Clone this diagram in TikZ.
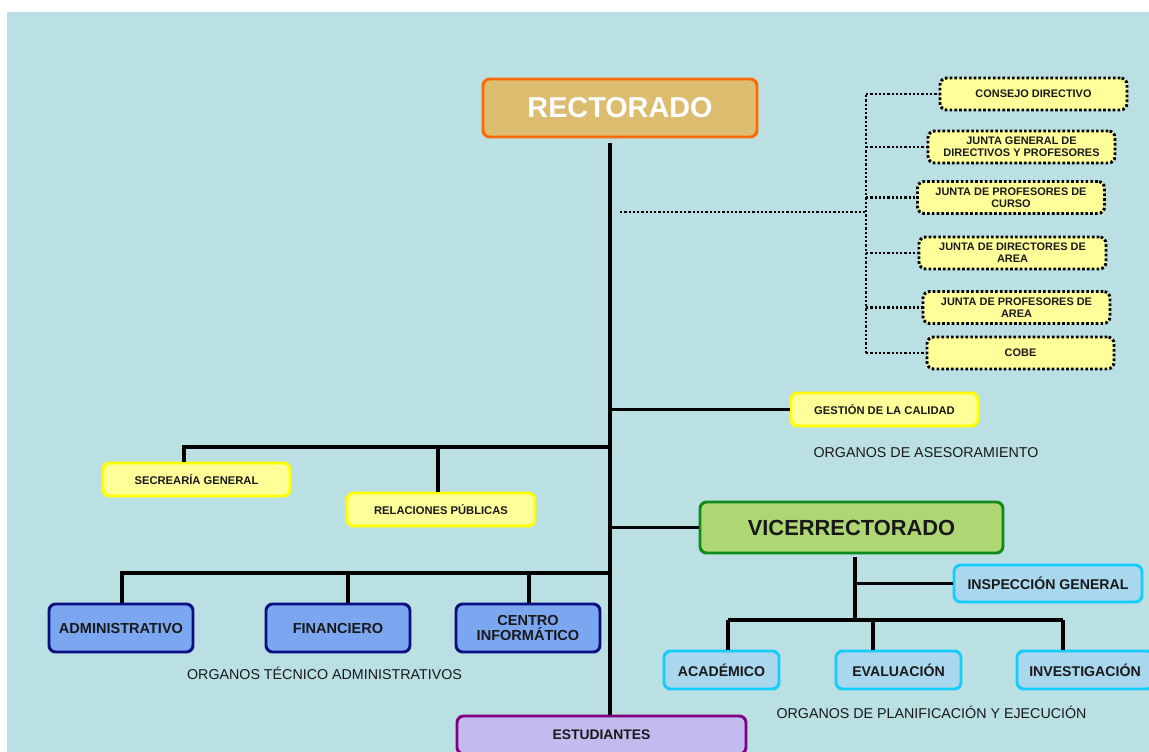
\documentclass[tikz,border=0pt]{standalone}
\usepackage{fontspec}
\setmainfont{Liberation Sans}

\definecolor{bgblue}{RGB}{186,224,227}
\definecolor{rectfill}{RGB}{220,188,110}
\definecolor{rectline}{RGB}{255,106,0}
\definecolor{paleyellow}{RGB}{255,255,153}
\definecolor{brightyellow}{RGB}{255,255,0}
\definecolor{vicefill}{RGB}{174,214,115}
\definecolor{viceline}{RGB}{15,138,26}
\definecolor{skyfill}{RGB}{169,215,238}
\definecolor{skyline}{RGB}{20,205,250}
\definecolor{tecfill}{RGB}{123,167,240}
\definecolor{tecline}{RGB}{12,14,130}
\definecolor{estfill}{RGB}{195,186,240}
\definecolor{estline}{RGB}{128,0,128}
\definecolor{txtgray}{RGB}{25,25,25}

\newdimen\unitpx \unitpx=0.75pt

\tikzset{
  orgbox/.style={rounded corners=5pt, line width=2.2pt, align=center, inner sep=1pt,
    text=txtgray, font=\bfseries\fontsize{8.4}{9.5}\selectfont},
  juntabox/.style={orgbox, fill=paleyellow, draw=black, dash pattern=on 2pt off 1.6pt,
    font=\bfseries\fontsize{8.2}{9}\selectfont, minimum width=187\unitpx, minimum height=32\unitpx},
  asesorbox/.style={orgbox, fill=paleyellow, draw=brightyellow, minimum width=187\unitpx, minimum height=33\unitpx},
  tecbox/.style={orgbox, fill=tecfill, draw=tecline, font=\bfseries\fontsize{10.9}{11.5}\selectfont,
    minimum width=144\unitpx, minimum height=48\unitpx},
  planbox/.style={orgbox, fill=skyfill, draw=skyline, font=\bfseries\fontsize{10.6}{11.5}\selectfont,
    minimum height=38\unitpx},
  link/.style={line width=2.3pt, black},
  dotlink/.style={line width=1.7pt, black, dash pattern=on 1.7pt off 1.5pt},
  grouplabel/.style={text=txtgray, font=\fontsize{10.7}{12}\selectfont, inner sep=0pt}
}

\begin{document}
\begin{tikzpicture}[x=0.75pt,y=-0.75pt]
\useasboundingbox (0,0) rectangle (1149,752);
\fill[bgblue] (7,12) rectangle (1149,752);

% cabecera
\node[orgbox, fill=rectfill, draw=rectline, text=white, minimum width=274\unitpx, minimum height=58\unitpx,
  font=\bfseries\fontsize{21.6}{24}\selectfont] (rect) at (620,108) {RECTORADO};

% juntas y consejos
\node[juntabox] (consejo) at (1033.5,94) {CONSEJO DIRECTIVO};
\node[juntabox] (jgeneral) at (1021.5,147) {JUNTA GENERAL DE\\DIRECTIVOS Y PROFESORES};
\node[juntabox] (jcurso) at (1011,197.5) {JUNTA DE PROFESORES DE\\CURSO};
\node[juntabox] (jdirarea) at (1012.5,253) {JUNTA DE DIRECTORES DE\\AREA};
\node[juntabox] (jprofarea) at (1016.5,307.5) {JUNTA DE PROFESORES DE\\AREA};
\node[juntabox] (cobe) at (1020.5,353) {COBE};

% asesoramiento
\node[asesorbox] (gestion) at (884.5,409.5) {GESTI\'ON DE LA CALIDAD};
\node[grouplabel] (lasesor) at (926,453) {ORGANOS DE ASESORAMIENTO};
\node[asesorbox] (secre) at (196.5,479.5) {SECREAR\'IA GENERAL};
\node[asesorbox, minimum width=188\unitpx] (relac) at (441,509.5) {RELACIONES P\'UBLICAS};

% vicerrectorado
\node[orgbox, fill=vicefill, draw=viceline, minimum width=303\unitpx, minimum height=51\unitpx,
  font=\bfseries\fontsize{16.4}{18}\selectfont] (vice) at (851.5,527.5) {VICERRECTORADO};
\node[planbox, minimum width=188\unitpx, minimum height=37\unitpx] (insp) at (1048,583.5) {INSPECCI\'ON GENERAL};
\node[planbox, minimum width=115\unitpx] (acad) at (721.5,670) {ACAD\'EMICO};
\node[planbox, minimum width=125\unitpx] (eval) at (898.5,670) {EVALUACI\'ON};
\node[planbox, minimum width=136\unitpx] (invest) at (1085,670) {INVESTIGACI\'ON};
\node[grouplabel] (lplan) at (931.5,712) {ORGANOS DE PLANIFICACI\'ON Y EJECUCI\'ON};

% tecnico administrativos
\node[tecbox] (admin) at (121,628) {ADMINISTRATIVO};
\node[tecbox] (finan) at (338,628) {FINANCIERO};
\node[tecbox] (centro) at (528,628) {CENTRO\\INFORM\'ATICO};
\node[grouplabel] (ltec) at (324.5,673) {ORGANOS T\'ECNICO  ADMINISTRATIVOS};

\node[orgbox, fill=estfill, draw=estline, minimum width=289\unitpx, minimum height=38\unitpx,
  font=\bfseries\fontsize{10.4}{11}\selectfont] (estud) at (601.5,735) {ESTUDIANTES};

% conectores
\coordinate (spine) at (610,143);
\draw[link] (spine) -- (spine |- estud.north);

\begin{scope}[dotlink]
  \coordinate (dotspine) at (866,95);
  \draw (620,212) -- (866,212);
  \draw (dotspine) -- (866,353);
  \foreach \j in {consejo,jgeneral,jcurso,jdirarea,jprofarea,cobe}
    \draw (dotspine |- \j.west) -- (\j.west);
\end{scope}

\draw[link] (spine |- gestion.west) -- (gestion.west);
\draw[link] (610,447) -- (184,447) -- (184,447 |- secre.north);
\draw[link] (438,447) -- (438,447 |- relac.north);
\draw[link] (spine |- vice.west) -- (vice.west);

\draw[link] (610,573) -- (122,573) -- (122,573 |- admin.north);
\draw[link] (348,573) -- (348,573 |- finan.north);
\draw[link] (529,573) -- (529,573 |- centro.north);

\draw[link] (855,557) -- (855,620);
\draw[link] (855,583.5) -- (insp.west);
\draw[link] (728,620) -- (1063,620);
\draw[link] (728,620) -- (728,620 |- acad.north);
\draw[link] (873,620) -- (873,620 |- eval.north);
\draw[link] (1063,620) -- (1063,620 |- invest.north);
\end{tikzpicture}
\end{document}
